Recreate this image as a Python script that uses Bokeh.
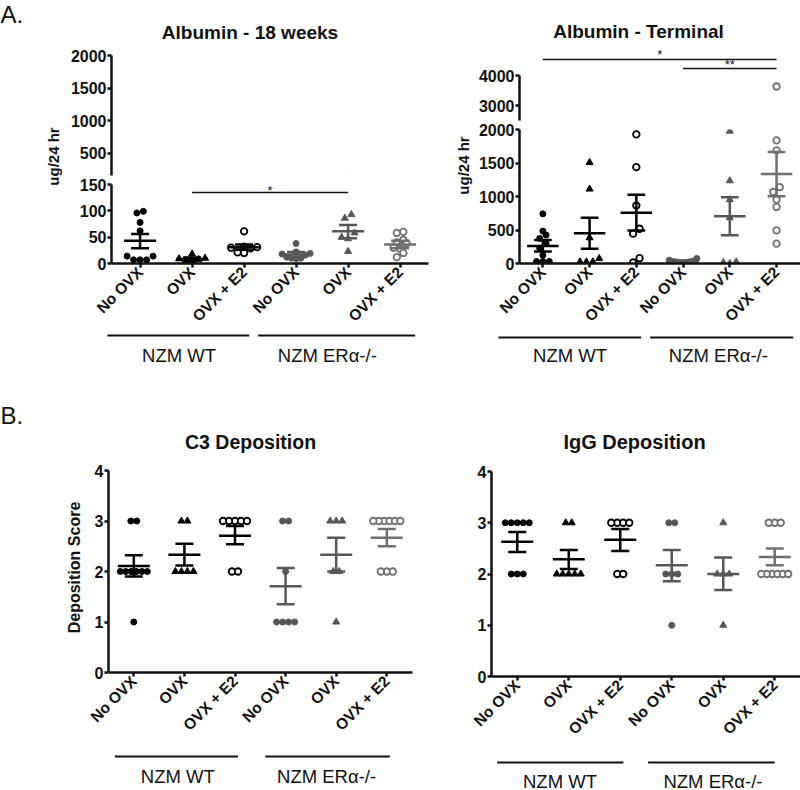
import numpy as np
from bokeh.plotting import figure
from bokeh.layouts import column, row
from bokeh.models import Range1d, FixedTicker, ColumnDataSource, Label
from bokeh.embed import file_html
from bokeh.resources import INLINE

FONT = "Liberation Sans"
INK = "#111111"

# ---------------- data ----------------
conditions = ["No OVX", "OVX", "OVX + E2", "No OVX", "OVX", "OVX + E2"]
strains = ["NZM WT", "NZM ERα-/-"]

# Albumin - 18 weeks (ug/24 hr)
alb18_points = [
    [99, 96, 78, 62, 14, 7, 7, 7, 14],
    [18, 10, 9, 8, 6, 5],
    [61, 32, 31, 30, 29, 20, 21],
    [38, 22, 19, 18, 16, 12, 10, 10, 9],
    [93, 86, 58, 50, 47, 23],
    [60, 58, 45, 40, 38, 30, 28, 20, 12],
]
alb18_mean = [43, 8.5, 31, 17, 61, 36]
alb18_sem_lo = [29, 5.5, 26, 12.5, 48, 29]
alb18_sem_hi = [56, 11.5, 36, 22, 73, 43]

# Albumin - Terminal (ug/24 hr)
term_points = [
    [741, 484, 425, 375, 300, 230, 124, 30, 30, 30],
    [1507, 1111, 385, 25, 25, 25, 74],
    [1927, 1438, 865, 519, 445, 79, 15],
    [75, 50, 40, 30, 25, 20, 20, 15, 10, 10, 30],
    [1976, 1235, 953, 682, 25, 0, 15],
    [3633, 1837, 1689, 1140, 1067, 953, 844, 494, 296],
]
term_mean = [262, 450, 756, 30, 706, 1334]
term_sem_lo = [178, 222, 494, 20, 420, 1003]
term_sem_hi = [351, 682, 1027, 42, 988, 1665]

# C3 Deposition score
c3_points = [
    [3, 3, 2, 2, 2, 2, 2, 2, 1],
    [3, 3, 2, 2, 2, 2],
    [3, 3, 3, 3, 3, 2, 2],
    [3, 3, 2, 1, 1, 1, 1],
    [3, 3, 3, 2, 2, 1],
    [3, 3, 3, 3, 3, 3, 2, 2, 2],
]
c3_mean = [2.11, 2.33, 2.71, 1.71, 2.33, 2.67]
c3_sem_lo = [1.90, 2.12, 2.54, 1.35, 2.00, 2.50]
c3_sem_hi = [2.32, 2.55, 2.90, 2.07, 2.67, 2.84]

# IgG Deposition score
igg_points = [
    [3, 3, 3, 3, 3, 2, 2, 2],
    [3, 3, 2, 2, 2, 2, 2],
    [3, 3, 3, 3, 2, 2],
    [3, 3, 2, 2, 2, 1],
    [3, 2, 2, 2, 1],
    [3, 3, 3, 2, 2, 2, 2, 2, 2],
]
igg_mean = [2.63, 2.29, 2.67, 2.17, 2.00, 2.33]
igg_sem_lo = [2.43, 2.10, 2.45, 1.86, 1.69, 2.17]
igg_sem_hi = [2.82, 2.47, 2.88, 2.47, 2.32, 2.50]

# ---------------- styles ----------------
group_colors = ["#000000", "#000000", "#000000", "#575757", "#575757", "#707070"]
group_markers = ["circle", "triangle", "circle", "circle", "triangle", "circle"]
group_hollow = [False, False, True, False, False, True]


def style_axis(ax, size, standoff):
    ax.axis_line_width = 2.5
    ax.axis_line_color = INK
    ax.major_tick_line_width = 2.5
    ax.major_tick_line_color = INK
    ax.major_tick_out = 4
    ax.major_tick_in = 0
    ax.minor_tick_line_color = None
    ax.major_label_text_font = FONT
    ax.major_label_text_font_style = "bold"
    ax.major_label_text_font_size = size
    ax.major_label_text_color = INK
    ax.major_label_standoff = standoff


def clean(p):
    p.title_location = None
    p.outline_line_color = None
    p.grid.visible = False
    p.background_fill_color = "white"
    p.border_fill_color = "white"
    return p


def blank_fig(w, h, xr, yr):
    p = figure(width=w, height=h, x_range=xr, y_range=yr, min_border=0,
               x_axis_location=None, y_axis_location=None,
               toolbar_location=None, tools="", output_backend="svg")
    return clean(p)


def panel_fig(w, h, L, R, T, B, xr, yr, yticks, xaxis, ybounds=None):
    p = figure(width=w, height=h, x_range=xr, y_range=yr,
               min_border_left=L, min_border_right=R, min_border_top=T, min_border_bottom=B,
               x_axis_location="below" if xaxis else None, y_axis_location="left",
               toolbar_location=None, tools="", output_backend="svg")
    clean(p)
    ya = p.yaxis[0]
    ya.ticker = FixedTicker(ticks=yticks)
    style_axis(ya, "16px", 1)
    if ybounds is not None:
        ya.bounds = ybounds
    if xaxis:
        xa = p.xaxis[0]
        xa.ticker = FixedTicker(ticks=list(range(len(conditions))))
        xa.major_label_overrides = {i: c for i, c in enumerate(conditions)}
        xa.major_label_orientation = np.pi / 4
        style_axis(xa, "15.5px", 2)
    return p


def add_text(p, x, y, text, size, bold=False, align="center", angle=0.0, color=INK):
    p.add_layout(Label(x=x, y=y, x_units="data", y_units="data", text=text,
                       text_font=FONT, text_font_size=size,
                       text_font_style="bold" if bold else "normal",
                       text_align=align, text_baseline="middle",
                       angle=angle, text_color=color))


def swarm(vals, to_px, step, maxw, gap=6.0):
    v = np.asarray(vals, float)
    px = np.array([to_px(a) for a in v])
    order = np.argsort(px, kind="stable")
    offs = np.zeros(len(v))
    clusters, cur = [], [order[0]]
    for k in order[1:]:
        if px[k] - px[cur[0]] < gap:
            cur.append(k)
        else:
            clusters.append(cur)
            cur = [k]
    clusters.append(cur)
    for c in clusters:
        n = len(c)
        if n == 1:
            continue
        s = min(step, maxw / (n - 1))
        centre = (n - 1) / 2
        slots = sorted(range(n), key=lambda j: (abs(j - centre), j))
        for k, j in zip(c, slots):
            offs[k] = (j - centre) * s
    return offs


def draw_data(p, pts, mean, lo, hi, ppc, to_px, step_px, maxw_px):
    for i, vals in enumerate(pts):
        offs = swarm(vals, to_px, step_px / ppc, maxw_px / ppc)
        src = ColumnDataSource(dict(x=list(i + offs), y=list(vals)))
        col = group_colors[i]
        if group_hollow[i]:
            p.scatter("x", "y", source=src, marker="circle", size=6.5,
                      fill_color="white", line_color=col, line_width=1.8)
        elif group_markers[i] == "triangle":
            p.scatter("x", "y", source=src, marker="triangle", size=7,
                      fill_color=col, line_color=col)
        else:
            p.scatter("x", "y", source=src, marker="circle", size=6,
                      fill_color=col, line_color=col)
    idx = np.arange(len(mean), dtype=float)
    mw, cw = 16.0 / ppc, 9.0 / ppc
    src = ColumnDataSource(dict(x=idx, m=mean, lo=lo, hi=hi, c=group_colors,
                                ml=idx - mw, mr=idx + mw, cl=idx - cw, cr=idx + cw))
    p.segment("ml", "m", "mr", "m", source=src, line_color="c", line_width=2.5)
    p.segment("cl", "lo", "cr", "lo", source=src, line_color="c", line_width=2.5)
    p.segment("cl", "hi", "cr", "hi", source=src, line_color="c", line_width=2.5)
    p.segment("x", "lo", "x", "hi", source=src, line_color="c", line_width=2.5)


class PanelX:
    """x geometry of one panel: category index -> page pixel"""
    def __init__(self, frame_left, start, ppc):
        self.frame_left, self.start, self.ppc = frame_left, start, ppc

    def cat(self, page_x):
        return self.start + (page_x - self.frame_left) / self.ppc

    def deco_fig(self, fig_left, w, h):
        # full-width helper figure sharing the panel's category scale
        return blank_fig(w, h, Range1d(self.cat(fig_left), self.cat(fig_left + w)), Range1d(h, 0))


def strip(gx, fig_left, w, h, lines, line_y, label_x, label_y):
    s = gx.deco_fig(fig_left, w, h)
    s.segment(x0=[a for a, b in lines], x1=[b for a, b in lines],
              y0=[line_y] * len(lines), y1=[line_y] * len(lines),
              line_color=INK, line_width=2)
    for lx, name in zip(label_x, strains):
        add_text(s, lx, label_y, name, "18.5px")
    return s


# ================= panel A =================
# --- Albumin - 18 weeks (page x 0..430) ---
ppc1, L1, F1, R1 = 52.0, 49, 317, 2
W1 = L1 + F1 + R1
gx1 = PanelX(111, -0.55, ppc1)
xr1 = Range1d(-0.55, -0.55 + F1 / ppc1)


def px1(v):
    return v * 81 / 150 if v <= 150 else 81 + 9 + (v - 160) * 120 / 1840


up1 = panel_fig(W1, 130, L1, R1, 8, 2, xr1, Range1d(160, 2000), [500, 1000, 1500, 2000], False)
lo1 = panel_fig(W1, 156, L1, R1, 7, 68, xr1, Range1d(0, 150), [0, 50, 100, 150], True)
for p in (up1, lo1):
    draw_data(p, alb18_points, alb18_mean, alb18_sem_lo, alb18_sem_hi, ppc1, px1, 6.5, 28)
lo1.segment(x0=[1], x1=[4], y0=[135], y1=[135], line_color=INK, line_width=1.5)
add_text(lo1, 2.5, 139, "*", "13px")

# --- Albumin - Terminal (page x 430..800) ---
ppc2, L2, F2, R2 = 47.4, 40, 285, 0
W2 = L2 + F2 + R2
gx2 = PanelX(515, -0.5, ppc2)
xr2 = Range1d(-0.5, -0.5 + F2 / ppc2)


def px2(v):
    return v * 135 / 2000 if v <= 2000 else 135 + 9 + (v - 2500) * 45 / 1500


up2 = panel_fig(W2, 75, L2, R2, 0, 2, xr2, Range1d(2500, 2500 + 73 * 1500 / 45),
                [3000, 4000], False, ybounds=(2500, 4000))
lo2 = panel_fig(W2, 211, L2, R2, 7, 69, xr2, Range1d(0, 2000), [0, 500, 1000, 1500, 2000], True)
for p in (up2, lo2):
    draw_data(p, term_points, term_mean, term_sem_lo, term_sem_hi, ppc2, px2, 6.5, 28)
sig_levels = [4533, 4233]
up2.segment(x0=[0, 3], x1=[5, 5], y0=sig_levels, y1=sig_levels, line_color=INK, line_width=1.5)
add_text(up2, 2.5, 4700, "*", "13px")
add_text(up2, 4, 4370, "**", "13px")

# headers (page y 0..47)
hdA1 = gx1.deco_fig(0, 430, 47)
add_text(hdA1, gx1.cat(249.5), 31.5, "Albumin - 18 weeks", "19px", bold=True)
add_text(hdA1, gx1.cat(0), 13.5, "A.", "24px", align="left")
hdA2 = gx2.deco_fig(430, 370, 47)
add_text(hdA2, gx2.cat(638), 31, "Albumin - Terminal", "19px", bold=True)

# left label columns (page y 47..333)
lf1 = blank_fig(62, 286, Range1d(0, 62), Range1d(286, 0))
add_text(lf1, 52.5, 109, "ug/24 hr", "15px", bold=True, angle=np.pi / 2)
lf2 = blank_fig(45, 286, Range1d(0, 45), Range1d(286, 0))
add_text(lf2, 32.5, 118, "ug/24 hr", "15px", bold=True, angle=np.pi / 2)

# strain strips (page y 333..375)
stA1 = strip(gx1, 0, 430, 42, [(-0.63, 2.1), (2.27, 5.29)], 2, [0.75, 3.6], 22)
stA2 = strip(gx2, 430, 370, 42, [(-0.86, 2.15), (2.34, 5.36)], 4, [0.65, 3.78], 22)

rowA_head = row(hdA1, hdA2)
rowA_body = row(lf1, column(up1, lo1), lf2, column(up2, lo2))
rowA_strip = row(stA1, stA2)

# ================= panel B =================
# --- C3 Deposition (page x 0..430) ---
ppc3, L3, F3, R3 = 50.6, 23, 304, 18
W3 = L3 + F3 + R3
gx3 = PanelX(108, -0.5, ppc3)
xr3 = Range1d(-0.5, -0.5 + F3 / ppc3)


def px3(v):
    return v * 50.5


m3 = panel_fig(W3, 284, L3, R3, 8, 74, xr3, Range1d(0, 4), [0, 1, 2, 3, 4], True)
draw_data(m3, c3_points, c3_mean, c3_sem_lo, c3_sem_hi, ppc3, px3, 6.0, 27)

# --- IgG Deposition (page x 430..800) ---
ppc4, L4, F4, R4 = 51.5, 61, 309, 0
W4 = L4 + F4 + R4
gx4 = PanelX(491, -0.5, ppc4)
xr4 = Range1d(-0.5, -0.5 + F4 / ppc4)


def px4(v):
    return v * 51.5


m4 = panel_fig(W4, 284, L4, R4, 9, 69, xr4, Range1d(0, 4), [0, 1, 2, 3, 4], True)
draw_data(m4, igg_points, igg_mean, igg_sem_lo, igg_sem_hi, ppc4, px4, 6.0, 27)

# headers (page y 375..462)
hdB1 = gx3.deco_fig(0, 430, 87)
add_text(hdB1, gx3.cat(250), 66.5, "C3 Deposition", "19.5px", bold=True)
add_text(hdB1, gx3.cat(0), 40, "B.", "24px", align="left")
hdB2 = gx4.deco_fig(430, 370, 87)
add_text(hdB2, gx4.cat(634), 66.5, "IgG Deposition", "20px", bold=True)

# left label column (page y 462..746)
lf3 = blank_fig(85, 284, Range1d(0, 85), Range1d(284, 0))
add_text(lf3, 73.5, 105, "Deposition Score", "16px", bold=True, angle=np.pi / 2)

# strain strips (page y 746..790)
stB1 = strip(gx3, 0, 430, 44, [(-0.375, 2.06), (2.6, 5.06)], 10, [0.87, 3.81], 29.5)
stB2 = strip(gx4, 430, 370, 44, [(-0.39, 2.06), (2.54, 5.0)], 16, [0.83, 3.8], 34.5)

rowB_head = row(hdB1, hdB2)
rowB_body = row(lf3, column(m3), column(m4))
rowB_strip = row(stB1, stB2)

layout = column(rowA_head, rowA_body, rowA_strip, rowB_head, rowB_body, rowB_strip)

with open("out.html", "w", encoding="utf-8") as f:
    f.write(file_html(layout, INLINE))
